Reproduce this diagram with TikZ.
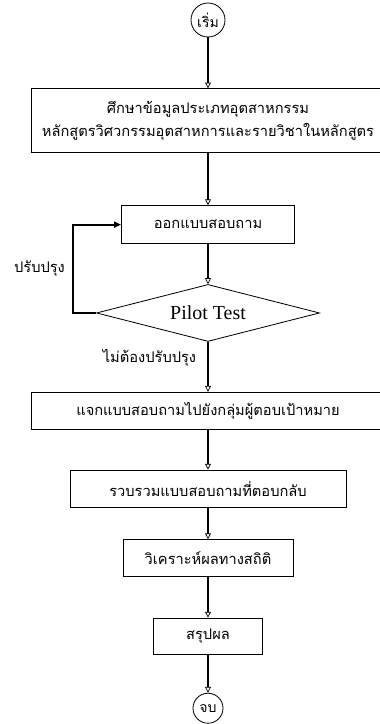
\documentclass[tikz,border=0pt]{standalone}
\usepackage{fontspec}
\setmainfont{Liberation Serif}
\newfontfamily\thaifont[Script=Thai]{Loma}
\usetikzlibrary{positioning}
\usetikzlibrary{shapes.geometric}
\usetikzlibrary{arrows.meta}

\begin{document}
\begin{tikzpicture}[
		terminal/.style={draw, circle, line width=0.7pt, inner sep=0pt,
			font=\thaifont\fontsize{12}{14}\selectfont},
		process/.style={draw, rectangle, line width=0.7pt, inner sep=0pt, align=center,
			font=\thaifont\fontsize{12.5}{19}\selectfont},
		decision/.style={draw, diamond, line width=0.7pt, aspect=3.9, inner sep=0pt,
			minimum width=6.69cm, minimum height=1.71cm, font=\fontsize{17}{20}\selectfont},
		note/.style={inner sep=0pt, font=\thaifont\fontsize{12.5}{15}\selectfont},
		flow/.style={line width=1.5pt, -{Triangle[open, length=5pt, width=5pt, line width=0.6pt]}},
		loopback/.style={line width=1.5pt, -{Triangle[length=6pt, width=5pt]}}
	]
	
	\useasboundingbox (0,0) rectangle (11.37,-21.72);
	
	\node[terminal, minimum size=1.02cm] (start) at (6.24,-0.6) {เริ่ม};
	\node[process, minimum width=10.62cm, minimum height=1.92cm, below=1.53cm of start] (study)
		{ศึกษาข้อมูลประเภทอุตสาหกรรม\\หลักสูตรวิศวกรรมอุตสาหการและรายวิชาในหลักสูตร};
	\node[process, minimum width=5.19cm, minimum height=1.14cm, below=1.56cm of study] (design) {ออกแบบสอบถาม};
	\node[decision, below=1.2cm of design] (pilot) {Pilot Test};
	\node[process, minimum width=10.62cm, minimum height=1.11cm, below=1.5cm of pilot] (send)
		{แจกแบบสอบถามไปยังกลุ่มผู้ตอบเป้าหมาย};
	\node[process, minimum width=8.28cm, minimum height=1.11cm, below=1.2cm of send] (collect)
		{รวบรวมแบบสอบถามที่ตอบกลับ};
	\node[process, minimum width=5.1cm, minimum height=1.11cm, below=0.95cm of collect] (analyse)
		{วิเคราะห์ผลทางสถิติ};
	\node[process, minimum width=3.27cm, minimum height=1.08cm, below=1.22cm of analyse] (summary) {สรุปผล};
	\node[terminal, minimum size=0.9cm, below=1.15cm of summary] (stop) {จบ};
	
	\draw[flow] (start.south) -- (study.north);
	\draw[flow] (study.south) -- (design.north);
	\draw[flow] (design.south) -- (pilot.north);
	\draw[loopback] (pilot.west) --++(180:0.69cm) |- node[note, pos=0.25, left=0.22cm] {ปรับปรุง} (design.west);
	\draw[flow] (pilot.south) -- node[note, pos=0.32, left=0.33cm] {ไม่ต้องปรับปรุง} (send.north);
	\draw[flow] (send.south) -- (collect.north);
	\draw[flow] (collect.south) -- (analyse.north);
	\draw[flow] (analyse.south) -- (summary.north);
	\draw[flow] (summary.south) -- (stop.north);
\end{tikzpicture}
\end{document}
